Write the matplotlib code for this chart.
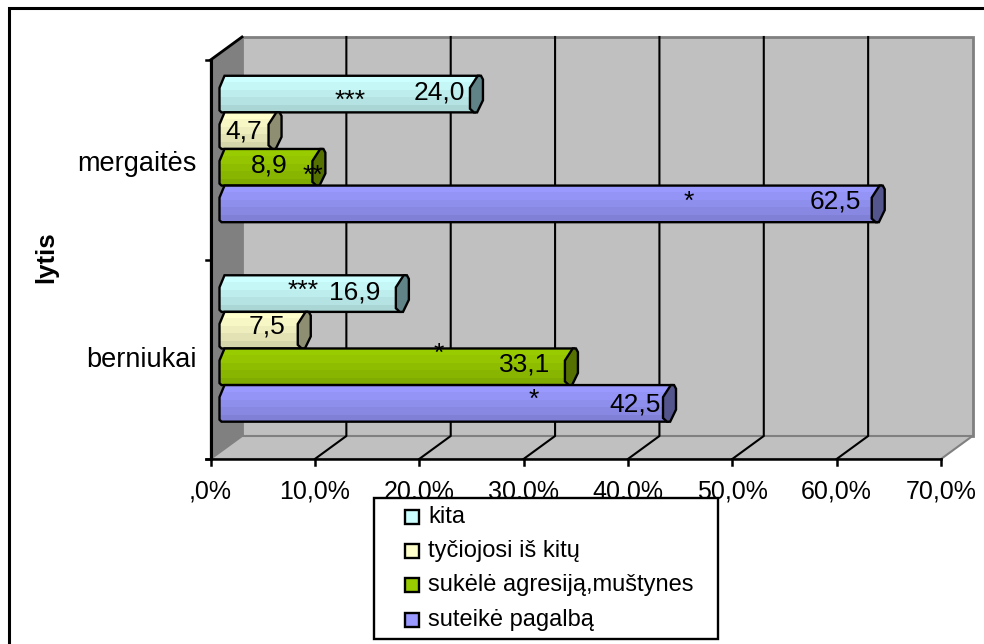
import numpy as np
import matplotlib
matplotlib.use("Agg")
import matplotlib.pyplot as plt
from matplotlib.patches import Polygon, Rectangle

plt.rcParams['font.family'] = ['Liberation Sans', 'DejaVu Sans']

# Survey shares, percent
groups = ["berniukai", "mergaitės"]
series = ["suteikė pagalbą", "sukėlė agresiją,muštynes", "tyčiojosi iš kitų", "kita"]
values = {
    "suteikė pagalbą": [42.5, 62.5],
    "sukėlė agresiją,muštynes": [33.1, 8.9],
    "tyčiojosi iš kitų": [7.5, 4.7],
    "kita": [16.9, 24.0],
}
labels = {
    "suteikė pagalbą": ["42,5", "62,5"],
    "sukėlė agresiją,muštynes": ["33,1", "8,9"],
    "tyčiojosi iš kitų": ["7,5", "4,7"],
    "kita": ["16,9", "24,0"],
}
colors = {
    "suteikė pagalbą": "#9999FF",
    "sukėlė agresiją,muštynes": "#99CC00",
    "tyčiojosi iš kitų": "#FFFFCC",
    "kita": "#CCFFFF",
}
cap_colors = {
    "suteikė pagalbą": "#55558E",
    "sukėlė agresiją,muštynes": "#557100",
    "tyčiojosi iš kitų": "#8E8E72",
    "kita": "#5F8387",
}
# how far each value label sits back from the bar end, and up from the bar centre (pixels)
label_back = {
    "suteikė pagalbą": [2, 11],
    "sukėlė agresiją,muštynes": [15, 25],
    "tyčiojosi iš kitų": [12, 6],
    "kita": [15, 5],
}
label_rise = {
    "suteikė pagalbą": [-1, 2],
    "sukėlė agresiją,muštynes": [2, 2],
    "tyčiojosi iš kitų": [4, -1],
    "kita": [1, 2],
}
ticks = [0, 10, 20, 30, 40, 50, 60, 70]
tick_labels = [",0%", "10,0%", "20,0%", "30,0%", "40,0%", "50,0%", "60,0%", "70,0%"]
significance = [("***", 13.4, 1.795), ("**", 9.8, 1.42), ("*", 45.8, 1.29),
                ("***", 8.86, 0.845), ("*", 21.9, 0.525), ("*", 31.0, 0.295)]

W, H = 984, 644
fig = plt.figure(figsize=(W / 100, H / 100), dpi=100)
L, R, T, B = 210.5, 941, 60, 459
ax = fig.add_axes([L / W, 1 - B / H, (R - L) / W, (B - T) / H])
ax.set_xlim(0, 70)
ax.set_ylim(0, 2)
ax.axis("off")

px_x = 70 / (R - L)
px_y = 2 / (B - T)
depth_x = 31.5 * px_x
depth_y = 23 * px_y
top = 2

kw = dict(clip_on=False)
# side wall, back wall and floor of the 3-D box
ax.add_patch(Polygon([(0, 0), (depth_x, depth_y), (depth_x, top + depth_y), (0, top)],
                     fc="#808080", ec="#808080", lw=1, zorder=1, **kw))
ax.add_patch(Rectangle((depth_x, depth_y), 70, top, fc="#C0C0C0", ec="#808080", lw=2, zorder=1, **kw))
ax.add_patch(Polygon([(0, 0), (depth_x, depth_y), (70 + depth_x, depth_y), (70, 0)],
                     fc="#C0C0C0", ec="#808080", lw=1.5, zorder=1, **kw))

# gridlines run along the floor and up the back wall
for t in ticks[1:-1]:
    ax.plot([t, t + depth_x, t + depth_x], [0, depth_y, top + depth_y],
            color="black", lw=1.5, zorder=2, **kw)

# axis lines and tick marks
ax.plot([0, 0], [0, top], color="black", lw=2.2, zorder=3, **kw)
ax.plot([0, depth_x], [top, top + depth_y], color="black", lw=2, zorder=3, **kw)
ax.plot([-5 * px_x, 70], [0, 0], color="black", lw=1.8, zorder=6, **kw)
for t, s in zip(ticks, tick_labels):
    ax.plot([t, t], [0, -6 * px_y], color="black", lw=1.8, **kw)
    ax.text(t, -21 * px_y, s, ha="center", va="top", fontsize=18)
for y in (0, 1, 2):
    ax.plot([-5 * px_x, 0], [y, y], color="black", lw=1.8, **kw)
for i, g in enumerate(groups):
    ax.text(-14 * px_x, i + (0.495 if i == 0 else 0.48), g, ha="right", va="center", fontsize=19.5)
ax.text(-164 * px_x, 1.01, "lytis", rotation=90, ha="center", va="center",
        fontsize=18.5, fontweight="bold")

# cylinder-like bars with banded shading
bar_h = 36.6 * px_y
start = 9 * px_x
cap = 13 * px_x
band = np.array([1.0, 0.97, 0.93, 0.89, 0.84])
for si, name in enumerate(series):
    base = np.array(matplotlib.colors.to_rgb(colors[name]))
    shade = (band[:, None] * base)[:, None, :]
    for gi, v in enumerate(values[name]):
        y0 = gi + 0.554 + (si - 2) * bar_h
        y1 = y0 + bar_h
        xe = start + v
        body = [(start + 5 * px_x, y1), (xe + 0.7 * cap, y1), (xe + 0.4 * cap, y0),
                (start + 2 * px_x, y0), (start, y0 + 2 * px_y), (start, y1 - 12 * px_y)]
        z = 4 + (3 - si) * 0.1
        im = ax.imshow(shade, extent=(start, xe + 0.8 * cap, y0, y1), aspect="auto", zorder=z,
                       interpolation="nearest")
        outline = Polygon(body, fc="none", ec="black", lw=1.7, zorder=z + 0.02, **kw)
        ax.add_patch(outline)
        im.set_clip_path(outline)
        # slanted elliptical end of the cylinder
        end = [(xe + 0.6 * cap, y1), (xe + 0.85 * cap, y1),
               (xe + cap, y1 - 0.1 * bar_h), (xe + cap, y1 - 0.67 * bar_h),
               (xe + 0.55 * cap, y0), (xe + 0.3 * cap, y0),
               (xe, y0 + 0.1 * bar_h), (xe, y1 - 0.33 * bar_h)]
        ax.add_patch(Polygon(end, fc=cap_colors[name], ec="black", lw=1.7, zorder=z + 0.03, **kw))
        ax.text(xe - label_back[name][gi] * px_x, (y0 + y1) / 2 + label_rise[name][gi] * px_y,
                labels[name][gi], ha="right", va="center", fontsize=19, zorder=8)

ax.set_xlim(0, 70)
ax.set_ylim(0, 2)

# significance markers
for s, x, y in significance:
    ax.text(x, y, s, ha="center", va="center", fontsize=19, zorder=8)

# outer frame of the chart area: only the top and left edges fall inside the canvas
fig.add_artist(Rectangle((9 / W, -0.01), 1, 1 - 7.5 / H + 0.01, transform=fig.transFigure,
                         fc="none", ec="black", lw=2.2))

# legend box, listed from the top series down
lx0, lx1, ly0, ly1 = 374, 718, 498, 639
fig.add_artist(Rectangle((lx0 / W, 1 - ly1 / H), (lx1 - lx0) / W, (ly1 - ly0) / H,
                         transform=fig.transFigure, fc="white", ec="black", lw=1.7, zorder=10))
for k, name in enumerate(reversed(series)):
    cy = 517 + k * 34.2
    fig.add_artist(Rectangle((405 / W, 1 - (cy + 7) / H), 13.5 / W, 14 / H,
                             transform=fig.transFigure, fc=colors[name], ec="black",
                             lw=1.7, zorder=11))
    fig.text(428 / W, 1 - cy / H, name, ha="left", va="center", fontsize=17, zorder=11)

fig.savefig("out.png", dpi=100, facecolor="white")
